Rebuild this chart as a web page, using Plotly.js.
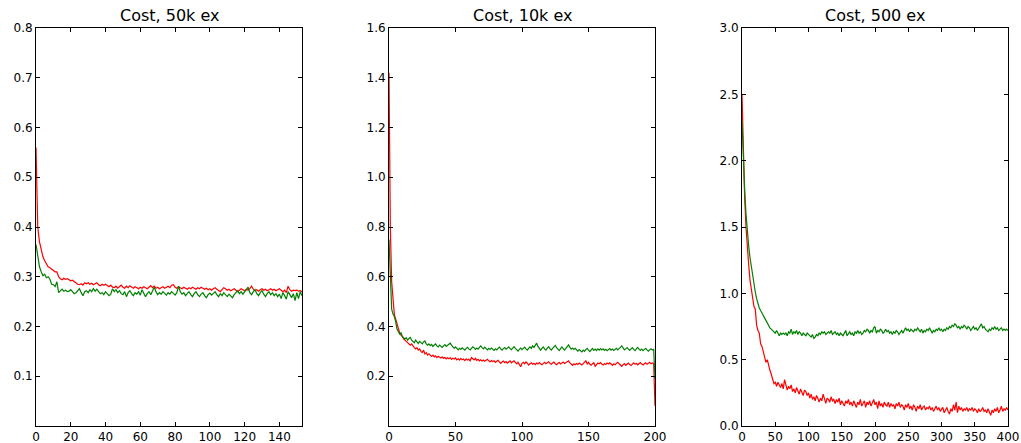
<!DOCTYPE html>
<html>
<head>
<meta charset="utf-8">
<script src="https://cdn.plot.ly/plotly-3.0.1.min.js"></script>
<style>html,body{margin:0;padding:0;background:#fff;}#chart{width:1021px;height:443px;}</style>
</head>
<body>
<div id="chart"></div>
<script>
// ---- Data ----
const titles = ["Cost, 50k ex", "Cost, 10k ex", "Cost, 500 ex"];

// Panel 1: 50k examples, epochs 0..153 (step 1)
const p1Step = 1;
const p1Train = [0.56,0.40,0.37,0.352,0.34,0.332,0.325,0.32,0.318,0.315,
0.312,0.31,0.31,0.30,0.296,0.294,0.297,0.295,0.296,0.294,
0.292,0.293,0.29,0.287,0.285,0.284,0.286,0.283,0.288,0.286,
0.288,0.285,0.287,0.284,0.286,0.288,0.284,0.282,0.285,0.283,
0.285,0.282,0.28,0.283,0.279,0.278,0.281,0.277,0.28,0.283,
0.279,0.277,0.281,0.278,0.282,0.279,0.277,0.28,0.278,0.276,
0.279,0.277,0.28,0.278,0.276,0.279,0.282,0.278,0.281,0.277,
0.279,0.276,0.278,0.28,0.277,0.279,0.281,0.278,0.283,0.284,
0.279,0.277,0.28,0.278,0.276,0.279,0.277,0.275,0.278,0.276,
0.279,0.277,0.275,0.278,0.276,0.279,0.277,0.275,0.277,0.274,
0.276,0.273,0.276,0.278,0.275,0.272,0.27,0.274,0.278,0.276,
0.273,0.275,0.272,0.274,0.276,0.273,0.27,0.273,0.276,0.274,
0.272,0.275,0.273,0.276,0.281,0.275,0.272,0.274,0.271,0.274,
0.276,0.273,0.275,0.272,0.274,0.276,0.273,0.275,0.272,0.274,
0.276,0.273,0.27,0.273,0.268,0.281,0.274,0.271,0.273,0.272,
0.273,0.271,0.272,0.27];
const p1Valid = [0.365,0.34,0.32,0.31,0.302,0.305,0.298,0.30,0.295,0.285,
0.284,0.28,0.29,0.268,0.272,0.275,0.271,0.273,0.27,0.271,
0.274,0.27,0.266,0.268,0.272,0.276,0.268,0.262,0.27,0.272,
0.268,0.274,0.27,0.276,0.271,0.275,0.27,0.266,0.268,0.264,
0.27,0.266,0.262,0.265,0.276,0.27,0.274,0.268,0.272,0.266,
0.264,0.27,0.26,0.268,0.272,0.266,0.262,0.268,0.265,0.27,
0.263,0.274,0.268,0.26,0.266,0.27,0.264,0.272,0.279,0.27,
0.264,0.268,0.265,0.27,0.266,0.263,0.268,0.265,0.27,0.267,
0.263,0.268,0.281,0.27,0.265,0.268,0.262,0.266,0.27,0.264,
0.26,0.266,0.27,0.264,0.26,0.265,0.268,0.262,0.258,0.264,
0.267,0.263,0.266,0.27,0.264,0.26,0.266,0.262,0.268,0.264,
0.26,0.265,0.262,0.258,0.264,0.268,0.272,0.266,0.27,0.265,
0.27,0.276,0.279,0.268,0.264,0.27,0.274,0.266,0.262,0.268,
0.272,0.265,0.26,0.266,0.27,0.264,0.268,0.262,0.266,0.26,
0.265,0.256,0.268,0.262,0.255,0.27,0.264,0.258,0.266,0.252,
0.268,0.256,0.27,0.262];

// Panel 2: 10k examples, epochs 0..200 (step 1)
const p2Step = 1;
const p2Train = [1.42,0.80,0.58,0.49,0.45,0.43,0.41,0.39,0.375,0.365,
0.36,0.35,0.345,0.34,0.335,0.33,0.325,0.33,0.32,0.315,
0.31,0.315,0.305,0.31,0.30,0.295,0.305,0.29,0.295,0.285,
0.29,0.285,0.28,0.285,0.278,0.282,0.275,0.28,0.277,0.273,
0.278,0.272,0.276,0.27,0.274,0.27,0.275,0.268,0.272,0.269,
0.274,0.266,0.27,0.265,0.272,0.266,0.269,0.263,0.27,0.265,
0.268,0.262,0.275,0.27,0.266,0.272,0.264,0.268,0.262,0.266,
0.261,0.265,0.26,0.264,0.268,0.262,0.258,0.263,0.259,0.262,
0.256,0.26,0.264,0.258,0.252,0.257,0.261,0.255,0.259,0.253,
0.257,0.262,0.254,0.258,0.262,0.256,0.25,0.256,0.248,0.238,
0.252,0.256,0.25,0.258,0.253,0.245,0.25,0.254,0.248,0.252,
0.247,0.253,0.249,0.255,0.25,0.246,0.252,0.256,0.25,0.254,
0.258,0.252,0.248,0.253,0.257,0.25,0.246,0.252,0.255,0.249,
0.253,0.257,0.251,0.255,0.259,0.262,0.254,0.248,0.244,0.25,
0.246,0.251,0.247,0.253,0.249,0.245,0.251,0.255,0.262,0.25,
0.256,0.248,0.244,0.25,0.254,0.24,0.248,0.253,0.25,0.255,
0.249,0.245,0.251,0.247,0.253,0.249,0.254,0.248,0.244,0.25,
0.246,0.252,0.256,0.25,0.246,0.24,0.247,0.251,0.244,0.249,
0.253,0.247,0.243,0.249,0.254,0.248,0.252,0.246,0.25,0.255,
0.249,0.245,0.25,0.254,0.248,0.252,0.256,0.25,0.254,0.252,
0.08];
const p2Valid = [0.75,0.56,0.47,0.45,0.44,0.42,0.39,0.38,0.37,0.375,
0.36,0.355,0.35,0.355,0.345,0.352,0.356,0.345,0.34,0.335,
0.345,0.338,0.332,0.34,0.335,0.33,0.338,0.342,0.33,0.325,
0.33,0.323,0.328,0.32,0.326,0.33,0.322,0.318,0.325,0.32,
0.316,0.322,0.327,0.32,0.325,0.33,0.333,0.325,0.318,0.312,
0.318,0.31,0.306,0.312,0.308,0.314,0.309,0.305,0.311,0.316,
0.31,0.306,0.312,0.318,0.314,0.308,0.313,0.309,0.316,0.322,
0.315,0.31,0.317,0.311,0.306,0.312,0.308,0.313,0.309,0.304,
0.31,0.306,0.312,0.317,0.31,0.305,0.311,0.315,0.309,0.314,
0.318,0.311,0.307,0.313,0.319,0.312,0.306,0.301,0.308,0.313,
0.307,0.311,0.317,0.31,0.305,0.312,0.318,0.312,0.322,0.316,
0.326,0.333,0.32,0.312,0.305,0.312,0.318,0.31,0.305,0.313,
0.319,0.311,0.305,0.312,0.317,0.324,0.315,0.308,0.303,0.311,
0.318,0.311,0.305,0.312,0.32,0.326,0.316,0.309,0.313,0.308,
0.312,0.306,0.301,0.307,0.303,0.298,0.305,0.30,0.307,0.312,
0.305,0.299,0.306,0.312,0.304,0.309,0.303,0.31,0.305,0.311,
0.306,0.31,0.304,0.308,0.303,0.307,0.311,0.305,0.309,0.304,
0.308,0.312,0.306,0.31,0.316,0.322,0.312,0.306,0.31,0.315,
0.309,0.304,0.31,0.315,0.308,0.303,0.31,0.316,0.309,0.304,
0.309,0.303,0.308,0.312,0.306,0.301,0.306,0.31,0.305,0.308,
0.19];

// Panel 3: 500 examples, epochs 0..400 (step 2)
const p3Step = 2;
const p3Train = [2.50,2.05,1.72,1.50,1.32,1.22,1.10,1.04,0.99,0.90,
0.88,0.76,0.72,0.70,0.62,0.60,0.56,0.52,0.48,0.50,
0.45,0.42,0.39,0.36,0.32,0.33,0.30,0.33,0.31,0.29,
0.32,0.28,0.35,0.30,0.27,0.30,0.28,0.31,0.26,0.28,
0.25,0.29,0.26,0.24,0.28,0.25,0.23,0.27,0.26,0.23,
0.25,0.21,0.24,0.20,0.22,0.19,0.23,0.21,0.18,0.21,
0.19,0.24,0.20,0.17,0.21,0.20,0.18,0.22,0.19,0.20,
0.17,0.20,0.18,0.21,0.16,0.19,0.17,0.15,0.19,0.17,
0.20,0.16,0.18,0.15,0.19,0.17,0.14,0.18,0.16,0.20,
0.15,0.17,0.19,0.14,0.18,0.16,0.19,0.15,0.17,0.20,
0.16,0.18,0.13,0.19,0.15,0.17,0.14,0.18,0.16,0.15,
0.18,0.14,0.17,0.15,0.16,0.13,0.17,0.15,0.18,0.14,
0.16,0.15,0.12,0.16,0.14,0.17,0.13,0.15,0.12,0.16,
0.14,0.11,0.15,0.13,0.16,0.12,0.14,0.15,0.12,0.14,
0.13,0.15,0.12,0.14,0.11,0.13,0.15,0.12,0.14,0.11,
0.13,0.14,0.10,0.12,0.14,0.11,0.09,0.13,0.11,0.16,
0.12,0.18,0.10,0.15,0.12,0.14,0.11,0.13,0.12,0.14,
0.11,0.13,0.12,0.14,0.11,0.13,0.12,0.10,0.13,0.11,
0.12,0.14,0.11,0.12,0.10,0.13,0.11,0.08,0.12,0.10,
0.13,0.11,0.14,0.10,0.12,0.15,0.11,0.13,0.12,0.14,
0.12];
const p3Valid = [2.30,2.00,1.78,1.60,1.45,1.36,1.27,1.20,1.12,1.06,
1.01,0.96,0.92,0.89,0.87,0.85,0.83,0.81,0.79,0.77,
0.76,0.74,0.73,0.72,0.71,0.70,0.72,0.70,0.68,0.70,
0.69,0.70,0.69,0.70,0.68,0.71,0.70,0.73,0.69,0.71,
0.70,0.72,0.69,0.71,0.70,0.68,0.70,0.69,0.68,0.70,
0.69,0.68,0.67,0.69,0.66,0.67,0.69,0.68,0.70,0.69,
0.71,0.70,0.71,0.69,0.70,0.71,0.70,0.72,0.69,0.70,
0.71,0.69,0.70,0.68,0.70,0.69,0.68,0.70,0.72,0.68,
0.70,0.71,0.69,0.70,0.68,0.71,0.70,0.72,0.70,0.71,
0.69,0.70,0.72,0.71,0.73,0.72,0.70,0.72,0.71,0.74,
0.75,0.70,0.72,0.71,0.73,0.72,0.70,0.71,0.73,0.71,
0.72,0.70,0.71,0.69,0.71,0.70,0.72,0.71,0.69,0.71,
0.72,0.70,0.72,0.74,0.72,0.73,0.71,0.73,0.72,0.71,
0.73,0.72,0.74,0.72,0.71,0.73,0.70,0.72,0.71,0.73,
0.72,0.74,0.72,0.70,0.72,0.71,0.73,0.72,0.74,0.72,
0.73,0.71,0.73,0.72,0.74,0.73,0.75,0.74,0.76,0.75,
0.77,0.76,0.74,0.75,0.73,0.75,0.74,0.76,0.75,0.73,
0.75,0.74,0.72,0.74,0.75,0.73,0.74,0.72,0.74,0.76,
0.77,0.74,0.75,0.73,0.72,0.71,0.73,0.72,0.74,0.73,
0.75,0.73,0.74,0.72,0.73,0.74,0.72,0.73,0.72,0.73,
0.72];

// Axis settings
const xRanges = [[0, 153], [0, 200], [0, 400]];
const xDticks = [20, 50, 50];
const yRanges = [[0, 0.8], [0, 1.6], [0, 3.0]];
const yTickVals = [
  [0.1,0.2,0.3,0.4,0.5,0.6,0.7,0.8],
  [0.2,0.4,0.6,0.8,1.0,1.2,1.4,1.6],
  [0.0,0.5,1.0,1.5,2.0,2.5,3.0]
];

// ---- Build ----
const TRAIN_COLOR = '#ff0000';
const VALID_COLOR = '#008000';
const series = [
  [p1Train, p1Valid, p1Step],
  [p2Train, p2Valid, p2Step],
  [p3Train, p3Valid, p3Step]
];
const traces = [];
series.forEach((s, i) => {
  const xa = i === 0 ? 'x' : 'x' + (i + 1);
  const ya = i === 0 ? 'y' : 'y' + (i + 1);
  const mk = (arr) => arr.map((_, k) => k * s[2]);
  traces.push({x: mk(s[0]), y: s[0], type: 'scatter', mode: 'lines', xaxis: xa, yaxis: ya,
    line: {color: TRAIN_COLOR, width: 1.2}, hoverinfo: 'skip', showlegend: false});
  traces.push({x: mk(s[1]), y: s[1], type: 'scatter', mode: 'lines', xaxis: xa, yaxis: ya,
    line: {color: VALID_COLOR, width: 1.2}, hoverinfo: 'skip', showlegend: false});
});

const W = 1021, H = 443;
const mL = 36, mR = 13, mT = 28, mB = 17;
const plotW = W - mL - mR;
const leftPx = [36, 389, 742];
const widthPx = 266;
const domains = leftPx.map(l => [(l - mL) / plotW, Math.min(1, (l - mL + widthPx) / plotW)]);

const FONT = 'DejaVu Sans, sans-serif';
const layout = {
  width: W, height: H,
  margin: {l: mL, r: mR, t: mT, b: mB, pad: 0},
  paper_bgcolor: '#fff', plot_bgcolor: '#fff',
  font: {family: FONT, size: 12, color: '#000'},
  showlegend: false,
  annotations: []
};
const axBase = {
  showgrid: false, zeroline: false, showline: true, mirror: 'ticks',
  linecolor: '#000', linewidth: 1, ticks: 'inside', ticklen: 4, tickwidth: 1,
  tickcolor: '#000', tickfont: {family: FONT, size: 12, color: '#000'},
  fixedrange: true
};
for (let i = 0; i < 3; i++) {
  const sfx = i === 0 ? '' : String(i + 1);
  layout['xaxis' + sfx] = Object.assign({}, axBase, {
    domain: domains[i], range: xRanges[i], tickmode: 'linear', tick0: 0, dtick: xDticks[i],
    anchor: 'y' + sfx
  });
  layout['yaxis' + sfx] = Object.assign({}, axBase, {
    domain: [0, 1], range: yRanges[i], tickmode: 'array', tickvals: yTickVals[i],
    ticktext: yTickVals[i].map(v => v.toFixed(1)), anchor: 'x' + sfx
  });
  layout.annotations.push({
    text: titles[i], xref: 'paper', yref: 'paper',
    x: (domains[i][0] + domains[i][1]) / 2, y: 1, xanchor: 'center', yanchor: 'bottom',
    yshift: 1, showarrow: false, font: {family: FONT, size: 16, color: '#000'}
  });
}

Plotly.newPlot('chart', traces, layout, {displayModeBar: false, staticPlot: true});
</script>
</body>
</html>
